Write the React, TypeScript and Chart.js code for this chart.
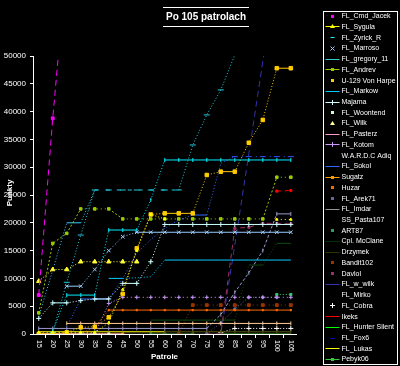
import React, { useEffect, useRef } from "react";
import { Chart, registerables } from "chart.js";
Chart.register(...registerables);

const _ = null;
const patrolLabels = ["15", "20", "25", "30", "35", "40", "45", "50", "55", "60", "65", "70", "75", "80", "85", "90", "95", "100", "105"];
const yTickValues = [0, 5000, 10000, 15000, 20000, 25000, 30000, 35000, 40000, 45000, 50000];

const cmdJacek = [7000, 38800, 67000, _, _, _, _, _, _, _, _, _, _, _, _, _, _, _, _];
const sygula = [300, 300, 300, 300, 300, 2000, 8000, 15000, 21500, 20700, _, _, _, _, _, _, _, 20600, 20600];
const zyrickR = [_, 300, 9300, 17800, 25900, 25900, 25900, 25900, 25900, 25900, 25900, 34000, 39400, 43900, 50200, _, _, _, _];
const marroso = [_, _, 8600, 8600, 11600, 15000, 17500, 18300, 18300, 18300, 18300, 18300, 18300, 18300, 18300, 18300, 18300, 18300, 18300];
const gregory11 = [_, 500, 7000, 7000, 7000, 18700, 18700, 18700, 24100, 31300, 31300, 31300, 31300, 31300, 31300, 31300, 31300, 31300, 31300];
const andrev = [3800, 16300, 18100, 22500, 22500, 22500, 20700, 20700, 20700, 20700, 20700, 20700, 20700, 20700, 20700, 20700, 20700, 28200, 28200];
const vonHarpe = [0, 0, 300, 1200, 1300, 3000, 7200, 15400, 21500, 21700, 21700, 21700, 28600, 29200, 29200, 34400, 38500, 47800, 47800];
const markow = [_, _, _, _, _, 10000, 10000, 10100, 10300, 13300, 13300, 13300, 13300, 13300, 13300, 13300, 13300, 13300, 13300];
const majama = [2800, 5600, 5600, 6000, 6300, 6300, 9100, 9100, 13000, 19700, 19700, 19700, 19700, 19700, 19700, 19700, 19700, 19700, 19700];
const woontend = [0, 0, 0, 0, 0, 0, _, _, _, _, _, _, _, _, _, _, _, _, _];
const wilk = [9500, 11600, 11600, 13000, 13000, 13000, 13000, 13000, _, _, _, _, _, _, _, _, _, _, _];
const pasterz = [0, 0, 0, 0, 0, 0, 0, _, _, _, _, _, _, _, _, _, _, _, _];
const kotom = [0, 0, 0, 0, 0, 5500, 6600, 6600, 6600, 6600, 6600, 6600, 6600, 6600, 6600, 6600, 6600, 6600, 6600];
const wardcAdiq = [_, _, 1900, 1900, 1900, 1900, 1900, 1900, 1900, 1900, 1900, 1900, 1900, 1900, 1900, 1900, 1900, 1900, 1900];
const sokol = [_, _, 1300, 6300, 6300, 6300, 10000, 14500, 17000, 19000, 20500, 21400, 21400, 30700, 31900, _, _, _, _];
const sugatz = [0, 0, 0, 0, 0, 0, 0, _, _, _, _, _, _, _, _, _, _, _, _];
const huzar = [0, 0, 0, 0, 1300, 4300, 4300, 4300, 4300, 4300, 4300, 4300, 4300, 4300, 4300, 4300, 4300, 4300, 4300];
const arek71 = [_, _, _, _, _, _, _, _, _, _, _, _, 0, 2000, 4500, 6600, 6600, 6600, _];
const imdar = [1000, 1000, 1000, 1000, 1000, 1000, 1000, 1000, 1000, 1000, 1000, 1000, 1000, 3500, 7500, 11000, 15000, 21600, 21600];
const ssPasta107 = [3100, 11500, 20000, 20000, 25900, _, _, _, _, _, _, _, _, _, _, _, _, _, _];
const art87 = [_, _, _, _, _, _, _, _, _, _, _, _, _, _, _, _, _, 7100, 7100];
const mcClane = [_, _, _, _, _, _, _, _, 2500, 2500, 2500, 2500, 2500, 2500, 2500, 12400, 12400, 16300, 16300];
const drzymek = [_, _, _, _, _, _, _, _, _, 400, 400, 400, 400, 400, 400, 400, 400, 400, 400];
const bandit102 = [_, _, _, _, _, _, _, _, _, _, 0, 5200, 5200, 5200, 5200, 5200, 5200, 5200, 5200];
const davlol = [_, _, _, _, _, _, _, _, _, _, _, _, 0, 0, 19000, 19200, 19900, 19900, 19800];
const wWilk = [_, _, _, _, _, _, _, _, _, _, _, _, _, 0, 16000, 32400, 49000, 65000, _];
const mirko = [0, 0, 0, 0, 0, 0, 0, 0, 0, 0, 0, 0, 0, 0, 0, 0, 0, 0, 0];
const cobra = [_, _, _, _, _, _, _, _, _, _, _, _, _, 250, 1000, 1000, 1000, 1000, 1000];
const ikeks = [_, _, _, _, _, _, _, _, _, _, _, _, 0, _, _, _, _, 25700, 25800];
const hunterSilent = [_, _, _, _, _, _, _, _, _, _, _, _, _, 0, 0, 0, 0, 0, 0];
const fox6 = [_, _, _, _, _, _, _, _, _, _, _, _, _, _, 31900, 31900, 31900, 31900, 31900];
const lukas = [400, 400, 400, 400, 400, 400, 400, 400, 400, 400, _, _, _, _, _, _, _, _, _];
const pebyk06 = [_, _, _, _, _, _, _, _, 0, 0, 0, 0, _, _, _, _, _, _, _];

type Sym = "l" | "lm" | "m" | "n";
type Spec = {
  label: string; data: (number | null)[]; color: string; legendColor?: string;
  flat: number[]; rise: number[]; point: string | false; r: number; rot?: number; legend: Sym;
};

const D = [1, 2];
const specs: Spec[] = [
  { label: "FL_Cmd_Jacek", data: cmdJacek, color: "#FF00FF", flat: [6, 4], rise: [6, 4], point: "rect", r: 2, legend: "m" },
  { label: "FL_Sygula", data: sygula, color: "#FFFF00", flat: [1, 3], rise: D, point: "triangle", r: 1.5, legend: "lm" },
  { label: "FL_Zyrick_R", data: zyrickR, color: "#22CCDD", legendColor: "#00FFFF", flat: [4, 7], rise: D, point: "line", r: 3, legend: "m" },
  { label: "FL_Marroso", data: marroso, color: "#99CCFF", flat: [], rise: D, point: "crossRot", r: 2.5, legend: "m" },
  { label: "FL_gregory_11", data: gregory11, color: "#00EEFF", legendColor: "#33CCCC", flat: [], rise: D, point: "line", r: 2, rot: 90, legend: "l" },
  { label: "FL_Andrev", data: andrev, color: "#99CC00", flat: [1, 3], rise: [2, 2], point: "rect", r: 1.8, legend: "lm" },
  { label: "U-129 Von Harpe", data: vonHarpe, color: "#FFCC00", flat: [], rise: D, point: "rect", r: 2.5, legend: "m" },
  { label: "FL_Markow", data: markow, color: "#00CCFF", flat: [], rise: D, point: false, r: 0, legend: "l" },
  { label: "Majama", data: majama, color: "#CCFFFF", flat: [], rise: D, point: "cross", r: 2.5, legend: "lm" },
  { label: "FL_Woontend", data: woontend, color: "#CCFFCC", flat: D, rise: D, point: "rect", r: 1.5, legend: "m" },
  { label: "FL_Wilk", data: wilk, color: "#FFFF33", legendColor: "#FFFF99", flat: D, rise: D, point: "triangle", r: 2.5, legend: "m" },
  { label: "FL_Pasterz", data: pasterz, color: "#FF99CC", flat: [], rise: D, point: false, r: 0, legend: "l" },
  { label: "FL_Kotom", data: kotom, color: "#CC99FF", flat: [1, 3], rise: D, point: "cross", r: 2, legend: "lm" },
  { label: "W.A.R.D.C Adiq", data: wardcAdiq, color: "#FFCC99", flat: [], rise: D, point: "line", r: 2, rot: 90, legend: "n" },
  { label: "FL_Sokol", data: sokol, color: "#3366FF", flat: [], rise: D, point: false, r: 0, legend: "l" },
  { label: "Sugatz", data: sugatz, color: "#FF9900", flat: [], rise: D, point: "rect", r: 1.5, legend: "lm" },
  { label: "Huzar", data: huzar, color: "#FF6600", flat: [], rise: D, point: "rect", r: 1, legend: "m" },
  { label: "FL_Arek71", data: arek71, color: "#666699", flat: D, rise: D, point: "rect", r: 1.5, legend: "m" },
  { label: "FL_Imdar", data: imdar, color: "#9999CC", legendColor: "#969696", flat: [], rise: [3, 2], point: "line", r: 2, rot: 90, legend: "lm" },
  { label: "SS_Pasta107", data: ssPasta107, color: "#33CCFF", flat: [], rise: D, point: false, r: 0, legend: "n" },
  { label: "ART87", data: art87, color: "#33CC66", legendColor: "#339966", flat: D, rise: D, point: "rect", r: 1.5, legend: "m" },
  { label: "Cpl. McClane", data: mcClane, color: "#0B4A0B", legendColor: "#003300", flat: [], rise: D, point: false, r: 0, legend: "l" },
  { label: "Drzymek", data: drzymek, color: "#55550A", legendColor: "#333300", flat: [], rise: D, point: "line", r: 2, rot: 90, legend: "lm" },
  { label: "Bandit102", data: bandit102, color: "#993300", flat: [1, 3], rise: D, point: "rect", r: 2, legend: "m" },
  { label: "Davlol", data: davlol, color: "#993366", flat: [5, 4], rise: [5, 4], point: "rect", r: 1.5, legend: "m" },
  { label: "FL_w_wilk", data: wWilk, color: "#3333AA", flat: [6, 4], rise: [6, 4], point: false, r: 0, legend: "l" },
  { label: "FL_Mirko", data: mirko, color: "#333333", flat: [], rise: D, point: false, r: 0, legend: "n" },
  { label: "FL_Cobra", data: cobra, color: "#FFFFFF", flat: D, rise: D, point: "cross", r: 2.5, legend: "m" },
  { label: "Ikeks", data: ikeks, color: "#FF0000", flat: [4, 4], rise: [4, 4], point: "rect", r: 1.5, legend: "l" },
  { label: "FL_Hunter Silent", data: hunterSilent, color: "#00FF00", flat: [], rise: D, point: false, r: 0, legend: "l" },
  { label: "FL_Fox6", data: fox6, color: "#3050FF", legendColor: "#0000FF", flat: [1, 6], rise: D, point: "line", r: 3, legend: "m" },
  { label: "FL_Lukas", data: lukas, color: "#FFFF00", flat: [], rise: D, point: false, r: 0, legend: "l" },
  { label: "Pebyk06", data: pebyk06, color: "#33CC33", flat: [], rise: D, point: "rect", r: 1.5, legend: "lm" },
];

const FONT = "'Liberation Sans', Arial, sans-serif";

function legendMarker(ctx: CanvasRenderingContext2D, style: string | false, x: number, y: number, color: string) {
  ctx.fillStyle = color;
  ctx.strokeStyle = color;
  ctx.lineWidth = 1;
  if (style === "rect") ctx.fillRect(x - 1.5, y - 1.5, 3, 3);
  else if (style === "triangle") {
    ctx.beginPath(); ctx.moveTo(x, y - 2.5); ctx.lineTo(x + 2.5, y + 1.5); ctx.lineTo(x - 2.5, y + 1.5); ctx.closePath(); ctx.fill();
  } else if (style === "cross") {
    ctx.beginPath(); ctx.moveTo(x - 2.5, y); ctx.lineTo(x + 2.5, y); ctx.moveTo(x, y - 2.5); ctx.lineTo(x, y + 2.5); ctx.stroke();
  } else if (style === "crossRot") {
    ctx.beginPath(); ctx.moveTo(x - 2, y - 2); ctx.lineTo(x + 2, y + 2); ctx.moveTo(x + 2, y - 2); ctx.lineTo(x - 2, y + 2); ctx.stroke();
  } else if (style === "line") {
    ctx.beginPath(); ctx.moveTo(x - 2, y); ctx.lineTo(x + 2, y); ctx.stroke();
  }
}

const decorations = {
  id: "decorations",
  beforeDraw(chart: any) {
    const { ctx } = chart;
    ctx.save();
    ctx.fillStyle = "#000";
    ctx.fillRect(0, 0, chart.width, chart.height);
    ctx.restore();
  },
  afterDraw(chart: any) {
    const { ctx } = chart;
    const xs = chart.scales.x;
    ctx.save();
    ctx.fillStyle = "#fff";
    ctx.strokeStyle = "#fff";
    ctx.lineWidth = 1;
    ctx.font = `bold 10px ${FONT}`;
    ctx.textAlign = "center";
    ctx.textBaseline = "middle";
    ctx.fillText("Po 105 patrolach", 206, 17);
    ctx.beginPath();
    ctx.moveTo(163, 7.5); ctx.lineTo(249, 7.5);
    ctx.moveTo(163, 26.5); ctx.lineTo(249, 26.5);
    ctx.stroke();
    ctx.font = `bold 8px ${FONT}`;
    ctx.fillText("Patrole", 164.5, 356.5);
    ctx.save();
    ctx.translate(9.5, 193);
    ctx.rotate(-Math.PI / 2);
    ctx.fillText("Punkty", 0, 0);
    ctx.restore();
    ctx.font = `7px ${FONT}`;
    ctx.textAlign = "left";
    patrolLabels.forEach((lab, i) => {
      const px = xs.getPixelForValue(i);
      ctx.save();
      ctx.translate(px, 340);
      ctx.rotate(Math.PI / 2);
      ctx.fillText(lab, 0, 0);
      ctx.restore();
    });
    ctx.strokeStyle = "#fff";
    ctx.strokeRect(323.5, 11.5, 74, 353);
    ctx.font = `7px ${FONT}`;
    ctx.textBaseline = "middle";
    specs.forEach((s, k) => {
      const y = 15.7 + 10.73 * k;
      const c = s.legendColor || s.color;
      const yy = Math.round(y) + 0.5;
      if (s.legend === "l" || s.legend === "lm") {
        ctx.strokeStyle = c;
        ctx.lineWidth = 1;
        ctx.beginPath(); ctx.moveTo(325.5, yy); ctx.lineTo(339.5, yy); ctx.stroke();
      }
      if (s.legend === "lm" || s.legend === "m") legendMarker(ctx, s.point || "rect", 332.5, yy, c);
      ctx.fillStyle = "#fff";
      ctx.fillText(s.label, 341.5, y + 0.5);
    });
    ctx.restore();
  },
};

export default function App() {
  const ref = useRef<HTMLCanvasElement>(null);
  useEffect(() => {
    document.body.style.margin = "0";
    document.body.style.background = "#000";
    const datasets = specs.map((s) => ({
      label: s.label,
      data: s.data.map((v, i) => ({ x: i, y: v })),
      borderColor: s.color,
      backgroundColor: s.color,
      borderWidth: 1,
      borderDash: s.flat,
      segment: {
        borderDash: (ctx: any) => (ctx.p0.parsed.y === ctx.p1.parsed.y ? s.flat : s.rise),
      },
      pointStyle: (s.point || "circle") as any,
      pointRadius: s.point ? s.r : 0,
      pointRotation: s.rot || 0,
      pointBorderWidth: 1,
      pointBorderColor: s.color,
      pointBackgroundColor: s.color,
      spanGaps: false,
      tension: 0,
      clip: 0,
    }));
    const chart = new Chart(ref.current!, {
      type: "line",
      data: { datasets },
      plugins: [decorations],
      options: {
        animation: false,
        responsive: false,
        events: [],
        layout: { padding: { left: 0, right: 104, top: 56, bottom: 0 } },
        plugins: { legend: { display: false }, title: { display: false }, tooltip: { enabled: false } },
        scales: {
          x: {
            type: "linear",
            min: -0.41,
            max: 18.37,
            afterFit: (sc: any) => { sc.height = 32; },
            afterBuildTicks: (sc: any) => {
              sc.ticks = patrolLabels.slice(1).map((_l, i) => ({ value: i + 0.5 }));
            },
            grid: { display: true, drawOnChartArea: false, drawTicks: true, tickLength: 4, color: "#fff" },
            border: { display: true, color: "#fff" },
            ticks: { display: false },
          },
          y: {
            min: 0,
            max: 50000,
            afterFit: (sc: any) => { sc.width = 33; },
            afterBuildTicks: (sc: any) => {
              sc.ticks = yTickValues.map((v) => ({ value: v }));
            },
            grid: { display: true, drawOnChartArea: false, drawTicks: true, tickLength: 3, color: "#fff" },
            border: { display: true, color: "#fff" },
            ticks: { color: "#fff", padding: 4, font: { size: 8, family: FONT }, callback: (v: any) => String(v) },
          },
        },
      },
    });
    return () => chart.destroy();
  }, []);
  return <canvas ref={ref} width={400} height={366} style={{ display: "block", background: "#000" }} />;
}
